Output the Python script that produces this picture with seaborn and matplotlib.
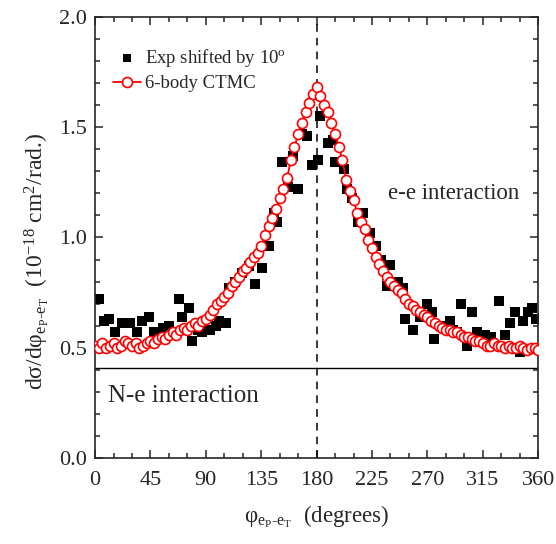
import numpy as np
import pandas as pd
import seaborn as sns
import matplotlib.pyplot as plt
from matplotlib.ticker import MultipleLocator, FormatStrFormatter

# experimental points (shifted by 10 deg)
exp_phi = [3, 7, 11, 16, 22, 28, 34, 38, 44, 48, 55, 60, 64, 68, 71, 76, 79, 84, 87, 93,
           98, 101, 106, 109, 114, 119, 125, 130, 136, 141, 145, 148, 152, 157, 161, 165, 168,
           172, 176, 181, 183, 189, 193, 195, 202, 205, 209, 214, 218, 223, 228, 232, 237,
           240, 246, 250, 252, 258, 264, 270, 274, 275, 283, 288, 291, 294, 297, 302, 306,
           310, 317, 322, 328, 333, 337, 341, 345, 348, 352, 355, 358]
exp_sigma = [0.72, 0.62, 0.63, 0.57, 0.61, 0.61, 0.57, 0.62, 0.64, 0.57, 0.59, 0.60, 0.56,
             0.72, 0.64, 0.68, 0.53, 0.58, 0.57, 0.58, 0.60, 0.62, 0.61, 0.77, 0.80, 0.84,
             0.87, 0.79, 0.86, 0.96, 1.11, 1.07, 1.34, 1.23, 1.37, 1.22, 1.47, 1.46, 1.33,
             1.35, 1.55, 1.43, 1.44, 1.34, 1.31, 1.22, 1.18, 1.07, 1.11, 1.02, 0.96, 0.90,
             0.78, 0.875, 0.80, 0.77, 0.63, 0.58, 0.64, 0.70, 0.66, 0.54, 0.60, 0.62, 0.58,
             0.57, 0.70, 0.51, 0.66, 0.57, 0.56, 0.55, 0.71, 0.56, 0.61, 0.66, 0.48, 0.62,
             0.66, 0.68, 0.63]

# 6-body CTMC, every 3 degrees from 0 to 360
ctmc_phi = np.arange(0, 361, 3)
ctmc_sigma = [0.51, 0.50, 0.52, 0.50, 0.51, 0.52, 0.50, 0.51, 0.53, 0.52,
              0.51, 0.52, 0.50, 0.51, 0.52, 0.53, 0.52, 0.54, 0.55, 0.54,
              0.56, 0.57, 0.56, 0.58, 0.59, 0.58, 0.60, 0.61, 0.60, 0.62,
              0.63, 0.65, 0.67, 0.70, 0.71, 0.73, 0.75, 0.78, 0.80, 0.82,
              0.85, 0.86, 0.89, 0.91, 0.93, 0.96, 1.01, 1.05, 1.09, 1.13,
              1.18, 1.22, 1.27, 1.35, 1.41, 1.47, 1.52, 1.57, 1.61, 1.65,
              1.68, 1.64, 1.60, 1.57, 1.52, 1.47, 1.41, 1.35, 1.26, 1.21,
              1.17, 1.11, 1.07, 1.04, 0.99, 0.95, 0.91, 0.88, 0.85, 0.82,
              0.80, 0.78, 0.76, 0.75, 0.72, 0.70, 0.69, 0.67, 0.66, 0.65,
              0.64, 0.62, 0.61, 0.60, 0.59, 0.58, 0.58, 0.57, 0.57, 0.56,
              0.55, 0.55, 0.54, 0.53, 0.53, 0.52, 0.51, 0.51, 0.52, 0.51,
              0.51, 0.50, 0.51, 0.50, 0.50, 0.51, 0.50, 0.49, 0.50, 0.50,
              0.49]

sns.set_style('ticks')
plt.rcParams['font.family'] = ['Liberation Serif', 'DejaVu Serif']
plt.rcParams['mathtext.fontset'] = 'custom'
plt.rcParams['mathtext.rm'] = 'Liberation Serif'
plt.rcParams['mathtext.it'] = 'Liberation Serif:italic'

exp_df = pd.DataFrame({'phi': exp_phi, 'sigma': exp_sigma})
ctmc_df = pd.DataFrame({'phi': ctmc_phi, 'sigma': ctmc_sigma})

fig = plt.figure(figsize=(5.56, 5.44), dpi=100)
ax = fig.add_axes([0.171, 0.158, 0.797, 0.811])

ax.axvline(180, color='black', ls=(0, (5, 4)), lw=1.1, zorder=1)
ax.axhline(0.41, color='black', lw=1.0, zorder=1)

sns.scatterplot(data=exp_df, x='phi', y='sigma', marker='s', s=50, color='black',
                edgecolor='black', linewidth=0, ax=ax, zorder=2,
                label='Exp shifted by 10$^{\\mathrm{o}}$')
sns.lineplot(data=ctmc_df, x='phi', y='sigma', color='red', lw=1.3, marker='o',
             markersize=7.2, markerfacecolor='white', markeredgecolor='red',
             markeredgewidth=1.2, ax=ax, zorder=3, label='6-body CTMC')

ax.set_xlim(0, 360)
ax.set_ylim(0, 2.0)
ax.xaxis.set_major_locator(MultipleLocator(45))
ax.xaxis.set_minor_locator(MultipleLocator(15))
ax.yaxis.set_major_locator(MultipleLocator(0.5))
ax.yaxis.set_minor_locator(MultipleLocator(0.1))
ax.yaxis.set_major_formatter(FormatStrFormatter('%.1f'))
ax.tick_params(which='both', direction='in', top=True, right=True, labelsize=16)
ax.tick_params(which='major', length=6, width=1.1)
ax.tick_params(which='minor', length=3.5, width=1.1)
ax.tick_params(axis='x', which='major', pad=9)
ax.tick_params(axis='y', which='major', pad=6)
for sp in ax.spines.values():
    sp.set_linewidth(1.2)

sub = r'$_{\mathrm{e_P\text{-}e_T}}$'
ax.set_xlabel('φ' + sub + '  (degrees)', fontsize=16.5, labelpad=10)
ax.set_ylabel('dσ/dφ' + sub + '  (10$^{-18}$ cm$^2$/rad.)', fontsize=17)
ax.yaxis.set_label_coords(-0.10, 0.445)

ax.text(291.5, 1.20, 'e-e interaction', fontsize=16.5, ha='center', va='center')
ax.text(72, 0.28, 'N-e interaction', fontsize=18, ha='center', va='center')

leg = ax.legend(loc='upper left', bbox_to_anchor=(0.011, 0.962), frameon=False,
                fontsize=13.5, handlelength=1.5, handletextpad=0.2, borderaxespad=0.3,
                labelspacing=0.35)
leg.legend_handles[0].set_sizes([32])

fig.savefig('out.png', dpi=100)
